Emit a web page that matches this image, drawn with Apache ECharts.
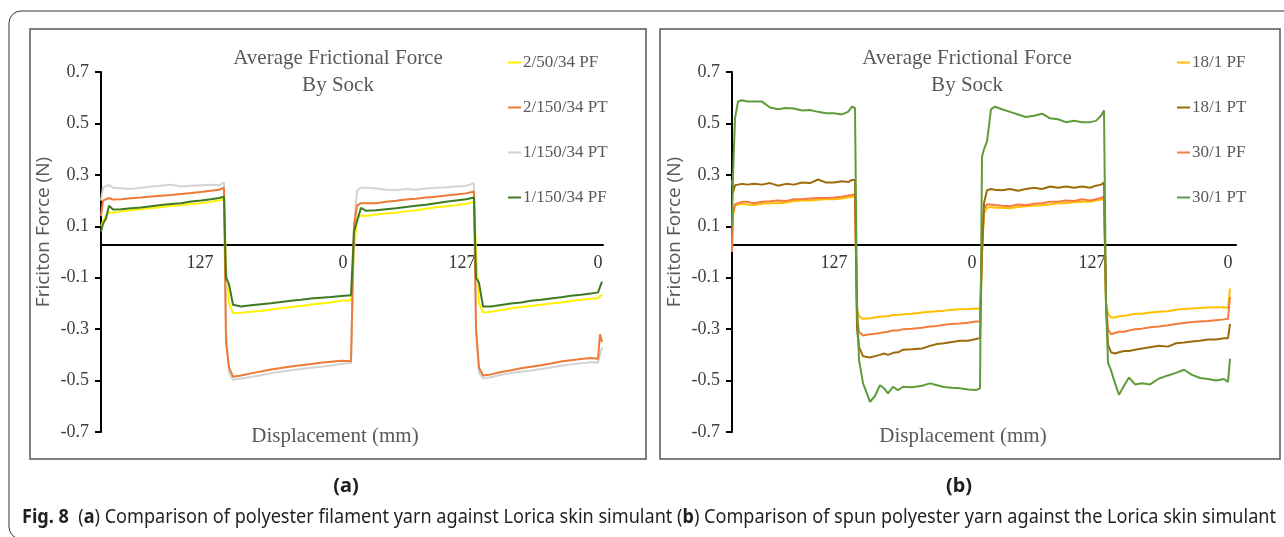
<!DOCTYPE html>
<html><head><meta charset="utf-8">
<script src="https://cdn.jsdelivr.net/npm/echarts@6/dist/echarts.min.js"></script>
<style>html,body{margin:0;padding:0;background:#fff}#c{width:1284px;height:537px}</style>
</head><body><div id="c"></div>
<script>
// ---------- Panel (a) data ----------
const xA = [0,2,5,8,12,20,30,40,50,60,70,80,90,100,110,118,123,
 125,128,132,
 140,150,160,170,180,190,200,210,220,230,240,250,
 253,256,260,
 265,275,285,295,305,315,325,335,345,355,365,373,
 375,378,382,
 390,400,410,420,430,440,450,460,470,480,490,497,499,501];
const a_2_50_34_PF = [0.10,0.12,0.14,0.155,0.153,0.158,0.162,0.166,0.171,0.174,0.18,0.182,0.187,0.19,0.195,0.2,0.205,
 -0.05,-0.2,-0.238,
 -0.236,-0.232,-0.229,-0.224,-0.219,-0.214,-0.21,-0.204,-0.2,-0.196,-0.19,-0.188,
 0.0,0.13,0.142,
 0.14,0.146,0.15,0.153,0.158,0.162,0.168,0.174,0.178,0.182,0.188,0.195,
 0.0,-0.2,-0.235,
 -0.232,-0.226,-0.22,-0.214,-0.21,-0.205,-0.2,-0.196,-0.191,-0.186,-0.182,-0.18,-0.178,-0.165];
const a_2_150_34_PT = [0.14,0.2,0.205,0.21,0.204,0.205,0.209,0.212,0.216,0.219,0.222,0.226,0.229,0.233,0.238,0.242,0.25,
 -0.35,-0.45,-0.485,
 -0.48,-0.472,-0.465,-0.457,-0.451,-0.445,-0.44,-0.436,-0.431,-0.427,-0.423,-0.425,
 0.1,0.18,0.19,
 0.19,0.19,0.195,0.199,0.204,0.207,0.212,0.215,0.22,0.224,0.228,0.235,
 -0.3,-0.45,-0.48,
 -0.476,-0.467,-0.46,-0.452,-0.446,-0.44,-0.434,-0.426,-0.421,-0.416,-0.412,-0.415,-0.32,-0.35];
const a_1_150_34_PT = [0.2,0.25,0.256,0.26,0.25,0.248,0.245,0.25,0.255,0.258,0.262,0.255,0.258,0.26,0.262,0.26,0.27,
 -0.3,-0.47,-0.497,
 -0.492,-0.486,-0.479,-0.471,-0.466,-0.46,-0.455,-0.45,-0.446,-0.441,-0.436,-0.432,
 0.1,0.24,0.25,
 0.25,0.247,0.242,0.24,0.245,0.242,0.247,0.25,0.252,0.255,0.257,0.268,
 -0.3,-0.47,-0.492,
 -0.487,-0.477,-0.471,-0.466,-0.461,-0.455,-0.449,-0.442,-0.437,-0.433,-0.429,-0.43,-0.4,-0.37];
const a_1_150_34_PF = [0.08,0.11,0.13,0.18,0.165,0.166,0.17,0.173,0.178,0.183,0.187,0.19,0.196,0.2,0.205,0.21,0.215,
 -0.1,-0.125,-0.205,
 -0.212,-0.207,-0.203,-0.199,-0.194,-0.19,-0.186,-0.181,-0.178,-0.175,-0.171,-0.168,
 0.08,0.12,0.172,
 0.16,0.162,0.166,0.17,0.175,0.18,0.184,0.19,0.195,0.2,0.205,0.212,
 -0.1,-0.12,-0.212,
 -0.212,-0.206,-0.2,-0.196,-0.19,-0.186,-0.181,-0.176,-0.17,-0.166,-0.161,-0.157,-0.15,-0.115];
const namesA = ['2/50/34 PF','2/150/34 PT','1/150/34 PT','1/150/34 PF'];
const colorsA = ['#FFF200','#EE7A36','#D3D3D3','#3E7A22'];
const xTickPosA = [99,242,361,497];
const xTickTextA = ['127','0','127','0'];

// ---------- Panel (b) data ----------
const xB = [0,1,3,6,10,15,22,30,38,46,54,62,70,78,86,94,102,110,116,120,123,
 125,127,131,138,143,148,152,156,161,166,171,180,190,198,205,212,220,228,236,244,248,
 250,252,255,259,263,270,278,286,294,302,310,318,326,334,342,350,358,364,369,372,
 374,376,379,383,387,392,397,403,410,418,427,436,444,452,460,468,476,484,492,496,498];
const b_18_1_PF = [0.0,0.14,0.18,0.185,0.188,0.185,0.183,0.188,0.19,0.19,0.192,0.198,0.2,0.2,0.203,0.205,0.205,0.208,0.212,0.215,0.218,
 -0.22,-0.25,-0.26,-0.258,-0.255,-0.252,-0.25,-0.25,-0.245,-0.245,-0.242,-0.24,-0.235,-0.232,-0.23,-0.228,-0.225,-0.223,-0.222,-0.22,-0.222,
 0.0,0.15,0.172,0.175,0.172,0.172,0.17,0.175,0.178,0.18,0.182,0.185,0.19,0.19,0.193,0.195,0.195,0.2,0.203,0.208,
 -0.2,-0.24,-0.255,-0.255,-0.25,-0.248,-0.245,-0.24,-0.24,-0.235,-0.232,-0.23,-0.225,-0.222,-0.22,-0.218,-0.216,-0.215,-0.215,-0.218,-0.142];
const b_18_1_PT = [0.28,0.23,0.26,0.262,0.265,0.262,0.265,0.262,0.268,0.258,0.265,0.262,0.27,0.268,0.282,0.27,0.27,0.275,0.272,0.28,0.28,
 -0.3,-0.37,-0.405,-0.41,-0.405,-0.4,-0.395,-0.4,-0.392,-0.39,-0.38,-0.378,-0.375,-0.365,-0.358,-0.355,-0.35,-0.345,-0.345,-0.338,-0.335,
 0.0,0.19,0.24,0.245,0.242,0.24,0.245,0.238,0.245,0.25,0.245,0.255,0.25,0.255,0.25,0.255,0.25,0.258,0.262,0.27,
 -0.2,-0.36,-0.39,-0.395,-0.39,-0.385,-0.385,-0.38,-0.375,-0.37,-0.365,-0.368,-0.355,-0.352,-0.348,-0.345,-0.34,-0.34,-0.335,-0.335,-0.28];
const b_30_1_PF = [0.0,0.15,0.185,0.19,0.195,0.195,0.19,0.195,0.197,0.2,0.198,0.205,0.205,0.208,0.21,0.21,0.212,0.215,0.22,0.222,0.225,
 -0.25,-0.31,-0.325,-0.32,-0.318,-0.315,-0.312,-0.31,-0.305,-0.305,-0.3,-0.298,-0.295,-0.29,-0.288,-0.283,-0.28,-0.278,-0.275,-0.27,-0.27,
 0.0,0.17,0.185,0.185,0.183,0.18,0.178,0.185,0.182,0.188,0.19,0.195,0.195,0.2,0.198,0.205,0.2,0.205,0.21,0.215,
 -0.2,-0.3,-0.32,-0.315,-0.31,-0.31,-0.305,-0.3,-0.298,-0.293,-0.29,-0.285,-0.28,-0.276,-0.272,-0.27,-0.268,-0.265,-0.262,-0.26,-0.175];
const b_30_1_PT = [0.1,0.3,0.52,0.585,0.59,0.585,0.585,0.585,0.562,0.555,0.56,0.558,0.55,0.552,0.545,0.54,0.54,0.535,0.545,0.565,0.56,
 -0.2,-0.42,-0.51,-0.583,-0.56,-0.518,-0.53,-0.55,-0.524,-0.537,-0.524,-0.526,-0.52,-0.511,-0.518,-0.525,-0.528,-0.53,-0.535,-0.537,-0.53,
 0.37,0.4,0.43,0.555,0.565,0.555,0.545,0.535,0.525,0.53,0.538,0.52,0.516,0.505,0.51,0.505,0.505,0.51,0.53,0.55,
 -0.2,-0.43,-0.46,-0.51,-0.555,-0.52,-0.488,-0.515,-0.51,-0.515,-0.492,-0.48,-0.47,-0.458,-0.478,-0.49,-0.494,-0.5,-0.494,-0.505,-0.415];
const namesB = ['18/1 PF','18/1 PT','30/1 PF','30/1 PT'];
const colorsB = ['#FFC000','#9E6A0C','#F47C3C','#5E9C3A'];
const xTickPosB = [102,240,360,496];
const xTickTextB = ['127','0','127','0'];

const chartTitle1 = 'Average Frictional Force';
const chartTitle2 = 'By Sock';
const yTitle = 'Friciton Force (N)';
const xTitle = 'Displacement (mm)';

// ---------- build ----------
const serif = '"Liberation Serif","Times New Roman",serif';
const sans = '"Open Sans","Noto Sans",sans-serif';
const capFont = '"Noto Sans",sans-serif';

function mkY(g){
  return {gridIndex:g,type:'value',min:-0.7,max:0.7,interval:0.2,
    axisLine:{show:true,onZero:false,lineStyle:{color:'#000',width:2}},
    axisTick:{show:true,inside:false,length:6,lineStyle:{color:'#000',width:2}},
    axisLabel:{formatter:v=>v.toFixed(1),fontFamily:serif,fontSize:18,color:'#404040',margin:12},
    splitLine:{show:false}};
}
function mkX(g,max,pos,txt){
  return {gridIndex:g,type:'value',min:0,max:max,position:'bottom',offset:-187,
    axisLine:{show:true,onZero:false,lineStyle:{color:'#000',width:2}},
    axisTick:{show:false},splitLine:{show:false},
    axisLabel:{customValues:pos,formatter:(v)=>{const i=pos.indexOf(Math.round(v));return i>=0?txt[i]:'';},
      fontFamily:serif,fontSize:18,color:'#333',margin:9}};
}
function mkSeries(name,xs,ys,color,idx){
  return {name:name,type:'line',xAxisIndex:idx,yAxisIndex:idx,showSymbol:false,symbol:'none',
    data:xs.map((x,i)=>[x,ys[i]]),lineStyle:{color:color,width:2},itemStyle:{color:color},
    animation:false,silent:true};
}
const seriesA = [a_2_50_34_PF,a_2_150_34_PT,a_1_150_34_PT,a_1_150_34_PF];
const seriesB = [b_18_1_PF,b_18_1_PT,b_30_1_PF,b_30_1_PT];
const series = [];
[0,2,1,3].forEach(i=>series.push(mkSeries(namesA[i],xA,seriesA[i],colorsA[i],0)));
[0,2,1,3].forEach(i=>series.push(mkSeries(namesB[i],xB,seriesB[i],colorsB[i],1)));

function legendFor(names,left){
  return {data:names,orient:'vertical',left:left,top:49,icon:'rect',itemWidth:13,itemHeight:2,itemGap:28,
    selectedMode:false,textStyle:{fontFamily:serif,fontSize:17,lineHeight:17,color:'#595959',padding:[0,0,0,-3]}};
}

const capText = ['Fig. 8','  (','a',') Comparison of polyester filament yarn against Lorica skin simulant (','b',') Comparison of spun polyester yarn against the Lorica skin simulant'];
const capBold = [true,false,true,false,true,false];
const capSize = 20;
const cv = document.createElement('canvas').getContext('2d');
let capW = 0;
capText.forEach((t,i)=>{cv.font=(capBold[i]?'bold ':'')+capSize+'px '+capFont;capW+=cv.measureText(t).width;});
const capScale = 1254/capW;
const capRich = capText.map((t,i)=>capBold[i]?'{b|'+t+'}':'{r|'+t+'}').join('');

function txt(x,y,text,font,size,color,extra){
  return Object.assign({type:'text',x:x,y:y,silent:true,style:{text:text,fontFamily:font,fontSize:size,fill:color,align:'center',verticalAlign:'middle'}},extra||{});
}

const graphic = [
  {type:'rect',shape:{x:9,y:11,width:1400,height:528,r:12},style:{fill:'none',stroke:'#333',lineWidth:1},silent:true,z:-1},
  {type:'rect',shape:{x:30,y:29,width:616,height:430},style:{fill:'none',stroke:'#555',lineWidth:1.5},silent:true,z:-1},
  {type:'rect',shape:{x:660,y:29,width:620,height:430},style:{fill:'none',stroke:'#555',lineWidth:1.5},silent:true,z:-1},
  txt(338,58,chartTitle1,serif,21,'#595959'),
  txt(338,85,chartTitle2,serif,21,'#595959'),
  txt(967,58,chartTitle1,serif,21,'#595959'),
  txt(967,85,chartTitle2,serif,21,'#595959'),
  txt(335,436,xTitle,serif,21,'#595959'),
  txt(963,436,xTitle,serif,21,'#595959'),
  txt(44,232,yTitle,sans,19,'#595959',{rotation:Math.PI/2}),
  txt(675,232,yTitle,sans,19,'#595959',{rotation:Math.PI/2}),
  {type:'text',x:346,y:486,silent:true,style:{text:'(a)',fontFamily:capFont,fontWeight:'bold',fontSize:20,fill:'#231f20',align:'center',verticalAlign:'middle'}},
  {type:'text',x:959,y:486,silent:true,style:{text:'(b)',fontFamily:capFont,fontWeight:'bold',fontSize:20,fill:'#231f20',align:'center',verticalAlign:'middle'}},
  {type:'text',x:22,y:517,scaleX:capScale,silent:true,style:{text:capRich,fill:'#231f20',align:'left',verticalAlign:'middle',
    rich:{b:{fontFamily:capFont,fontWeight:'bold',fontSize:capSize,fill:'#231f20'},r:{fontFamily:capFont,fontSize:capSize,fill:'#231f20'}}}}
];

const chart = echarts.init(document.getElementById('c'),null,{width:1284,height:537});
chart.setOption({
  animation:false,
  backgroundColor:'#fff',
  grid:[{left:101,top:72,width:502,height:360},{left:732,top:72,width:504,height:360}],
  xAxis:[mkX(0,502,xTickPosA,xTickTextA),mkX(1,504,xTickPosB,xTickTextB)],
  yAxis:[mkY(0),mkY(1)],
  legend:[legendFor(namesA,503),legendFor(namesB,1172)],
  series:series,
  graphic:graphic
});
</script></body></html>
